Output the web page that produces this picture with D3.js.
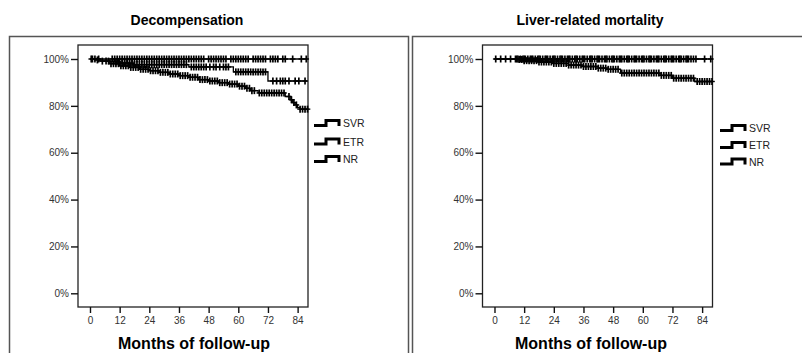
<!DOCTYPE html>
<html>
<head>
<meta charset="utf-8">
<script src="https://cdn.jsdelivr.net/npm/d3@7"></script>
<style>
  body { margin: 0; background: #fff; }
  text { font-family: Arial, "Liberation Sans", sans-serif; }
</style>
</head>
<body>
<div id="chart"></div>
<script>
// tick values
var monthTicks = [0, 12, 24, 36, 48, 60, 72, 84];
var pctTicks = [0, 20, 40, 60, 80, 100];
var groups = ["SVR", "ETR", "NR"];
var panelTitles = ["Decompensation", "Liver-related mortality"];
var axisTitle = "Months of follow-up";

// Kaplan-Meier steps [month, % event-free]
var decompSVR = [[0, 100]];
var decompETR = [[0, 100], [4, 99.5], [8, 98.8], [12, 98.2], [18, 97.6], [40, 96.6], [58, 94.5], [72, 90.6]];
var decompNR = [[0, 100], [2, 99.6], [4, 99.1], [8, 98.0], [12, 97.1], [16, 96.4], [20, 95.6], [24, 95.0],
  [28, 94.3], [32, 93.6], [36, 92.9], [40, 92.2], [44, 91.2], [48, 90.6], [52, 89.9], [56, 89.3], [60, 88.4],
  [63, 87.5], [65, 86.5], [68, 85.5], [79, 84.0], [81, 82.6], [82, 81.4], [83, 80.4], [84, 79.2], [85, 78.6]];
var decompEnd = [88, 88, 88.5];

var mortSVR = [[0, 100]];
var mortETR = [[0, 100]];
var mortNR = [[0, 100], [6, 99.8], [12, 99.3], [18, 98.7], [24, 98.1], [30, 97.4], [36, 96.8], [42, 96.1],
  [46, 95.6], [51, 94.0], [67, 93.0], [72, 91.8], [81, 90.4]];
var mortEnd = [88.5, 86, 88.5];

// censored times (+ marks)
var decompSVRCens = [0.5, 2, 3.5, 9, 10, 11, 12, 13, 14, 15, 16, 17, 18, 19, 20, 21, 22, 23, 24, 25, 26, 27, 28,
  29, 30, 31, 32, 33, 34, 35, 36, 37, 38, 39, 40, 41, 42, 43, 44, 45, 46, 48, 49, 50, 51, 52, 53, 54, 55, 57, 58,
  59, 60, 61, 62, 63, 64, 66, 67, 68, 69, 70, 71, 73, 74, 75, 76, 78, 79, 82, 85.5, 87.5];
var decompETRCens = [10.5, 11.5, 13, 14, 15, 16, 17, 18, 19, 20, 21, 22, 23, 24, 25, 26, 27, 28, 29, 30, 31, 32,
  33, 34, 35, 36, 37, 38, 39, 41, 42, 43, 44, 45, 46, 47, 48.5, 50, 51, 52.5, 54, 55, 56, 59, 60, 61, 62, 63, 64,
  65, 66, 67, 68, 69, 70, 71, 74, 75.5, 77, 78, 79, 80.5, 83, 84.5, 87];
var decompNRCens = [1, 3, 5, 6.5, 7.5, 8.5, 9.5, 10.5, 11.5, 12.5, 13.5, 14.5, 15.5, 16.5, 17.5, 18.5, 19.5, 20.5,
  21.5, 22.5, 23.5, 24.5, 25.5, 26.5, 27.5, 28.5, 29.5, 30.5, 31.5, 32.5, 33.5, 34.5, 35.5, 36.5, 37.5, 38.5, 39.5,
  40.5, 41.5, 42.5, 43.5, 44.5, 45.5, 46.5, 47.5, 48.5, 49.5, 50.5, 51.5, 52.5, 53.5, 54.5, 55.5, 56.5, 57.5, 58.5,
  59.5, 60.5, 61.5, 62.5, 63.5, 64.5, 65.5, 66.5, 68.5, 69.5, 70.5, 71.5, 72.5, 73.5, 74.5, 75.5, 76.5, 77.5, 78.5,
  80.5, 81.5, 82.5, 83.5, 85, 86, 87, 88];

var mortSVRCens = [0.5, 2.5, 4.5, 6.5, 8.5, 9.5, 10.5, 11.5, 12.5, 13.5, 14.5, 15.5, 16.5, 17.5, 18.5, 19.5, 20.5,
  21.5, 22.5, 23.5, 24.5, 25.5, 26.5, 27.5, 28.5, 29.5, 30.5, 31.5, 32.5, 33.5, 34.5, 35.5, 36.5, 37.5, 38.5, 39.5,
  40.5, 41.5, 42.5, 43.5, 44.5, 45.5, 46.5, 47.5, 48.5, 49.5, 50.5, 51.5, 52.5, 53.5, 54.5, 55.5, 56.5, 57.5, 58.5,
  59.5, 60.5, 61.5, 62.5, 63.5, 64.5, 65.5, 66.5, 67.5, 68.5, 69.5, 70.5, 71.5, 72.5, 73.5, 74.5, 75.5, 76.5, 77.5,
  78.5, 79.5, 80.5, 81.5, 85, 87.5];
var mortETRCens = [9, 12, 15, 18, 21, 24, 27, 30, 33, 36, 39, 42, 45, 48, 51, 54, 57, 60, 63, 66, 69, 72, 75, 78];
var mortNRCens = [10, 11, 12, 13, 14, 15, 16, 17, 18, 19, 20, 21, 22, 23, 24, 25, 26, 27, 28, 29, 30, 31, 32, 33,
  34, 35, 36, 37, 38, 39, 40, 41, 42, 43, 44, 45, 46, 47, 48, 49, 50, 51.5, 52.5, 53.5, 54.5, 55.5, 56.5, 57.5,
  58.5, 59.5, 60.5, 61.5, 62.5, 63.5, 64.5, 65.5, 66.5, 67.5, 68.5, 69.5, 70.5, 71.5, 72.5, 73.5, 74.5, 75.5, 76.5,
  77.5, 78.5, 79.5, 80.5, 82, 83, 84, 85, 86, 87, 88];

var panels = [
  { steps: [decompSVR, decompETR, decompNR], ends: decompEnd, cens: [decompSVRCens, decompETRCens, decompNRCens],
    off: 0, frameX: 9.5, titleX: 187, axisTitleX: 194, legendX: 314, legendY: [123, 141.5, 159] },
  { steps: [mortSVR, mortETR, mortNR], ends: mortEnd, cens: [mortSVRCens, mortETRCens, mortNRCens],
    off: 404.5, frameX: 412.5, titleX: 590, axisTitleX: 591, legendX: 720, legendY: [128, 145, 161.5] }
];

var svg = d3.select("#chart").append("svg")
  .attr("width", 802)
  .attr("height", 353);

function survAt(steps, t) {
  var v = steps[0][1];
  steps.forEach(function(s) { if (s[0] <= t) v = s[1]; });
  return v;
}

panels.forEach(function(p, i) {
  var g = svg.append("g");
  var x = d3.scaleLinear().domain([-4.85, 88.2]).range([78 + p.off, 308 + p.off]);
  var y = d3.scaleLinear().domain([0, 100]).range([293.3, 59]);

  // outer frame
  g.append("rect")
    .attr("x", p.frameX).attr("y", 36.5)
    .attr("width", 399).attr("height", 340)
    .attr("fill", "none").attr("stroke", "#555").attr("stroke-width", 1.5);

  g.append("text")
    .attr("x", p.titleX).attr("y", 25)
    .attr("text-anchor", "middle").attr("font-weight", "bold").attr("font-size", 14)
    .text(panelTitles[i]);

  // plot box
  g.append("rect")
    .attr("x", 78 + p.off).attr("y", 45)
    .attr("width", 230).attr("height", 262)
    .attr("fill", "none").attr("stroke", "#222").attr("stroke-width", 1.3);

  var yAxis = g.append("g")
    .attr("transform", "translate(" + (78 + p.off) + ",0)")
    .call(d3.axisLeft(y).tickValues(pctTicks).tickSize(7).tickPadding(2).tickFormat(function(d) { return d + "%"; }));
  var xAxis = g.append("g")
    .attr("transform", "translate(0,307)")
    .call(d3.axisBottom(x).tickValues(monthTicks).tickSize(6).tickPadding(4));
  [yAxis, xAxis].forEach(function(a) {
    a.select(".domain").remove();
    a.selectAll(".tick line").attr("stroke", "#111").attr("stroke-width", 1.4);
    a.selectAll("text").attr("font-size", 10).attr("fill", "#333").attr("font-family", "Arial, 'Liberation Sans', sans-serif");
  });

  g.append("text")
    .attr("x", p.axisTitleX).attr("y", 349)
    .attr("text-anchor", "middle").attr("font-weight", "bold").attr("font-size", 16)
    .text(axisTitle);

  var line = d3.line()
    .x(function(d) { return x(d[0]); })
    .y(function(d) { return y(d[1]); })
    .curve(d3.curveStepAfter);

  // draw NR first, SVR on top
  [2, 1, 0].forEach(function(k) {
    var steps = p.steps[k];
    var pts = steps.concat([[p.ends[k], steps[steps.length - 1][1]]]);
    g.append("path")
      .attr("d", line(pts))
      .attr("fill", "none").attr("stroke", "#000").attr("stroke-width", 1.3);
    var marks = g.append("g").selectAll("g")
      .data(p.cens[k])
      .enter()
      .append("g")
      .attr("transform", function(t) { return "translate(" + x(t) + "," + y(survAt(steps, t)) + ")"; });
    marks.append("path")
      .attr("d", "M-2.8,0H2.8")
      .attr("stroke", "#000").attr("stroke-width", 1.4);
    marks.append("path")
      .attr("d", "M0,-3.5V3.5")
      .attr("stroke", "#000").attr("stroke-width", 1.7);
  });

  // legend
  var lg = g.append("g").selectAll("g")
    .data(groups)
    .enter()
    .append("g")
    .attr("transform", function(d, j) { return "translate(" + p.legendX + "," + p.legendY[j] + ")"; });
  lg.append("path")
    .attr("d", "M0,2.5H12V-2.5H25V3")
    .attr("fill", "none").attr("stroke", "#000").attr("stroke-width", 3);
  lg.append("text")
    .attr("x", 29).attr("y", 4)
    .attr("font-size", 10.5).attr("fill", "#222")
    .text(function(d) { return d; });
});
</script>
</body>
</html>
